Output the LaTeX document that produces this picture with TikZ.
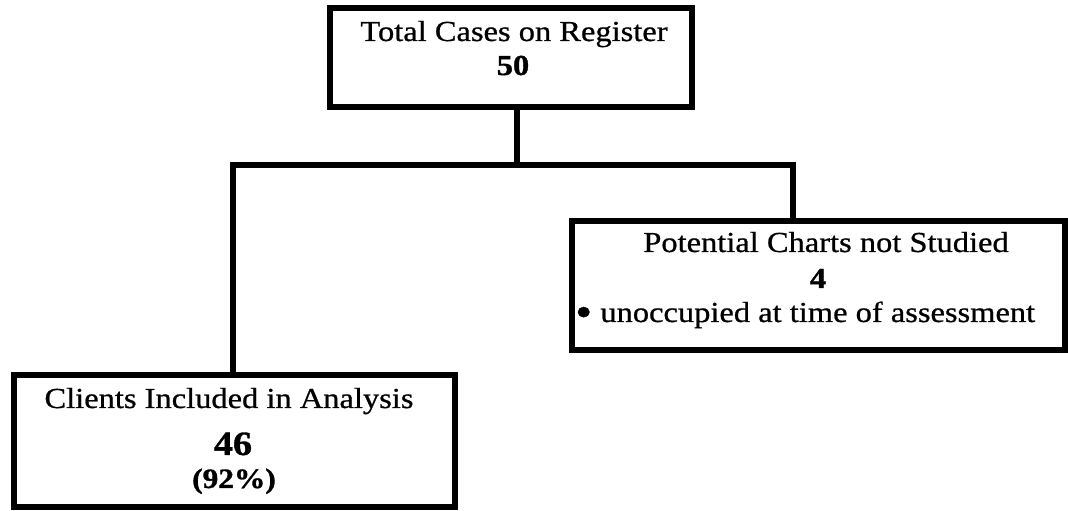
\documentclass[tikz,border=0pt]{standalone}
\usepackage{fontspec}
\usepackage{graphicx}
\setmainfont{Liberation Serif}[UprightFeatures={FakeBold=0.7}, BoldFeatures={FakeBold=1}]
% text is set slightly widened, as in the printed chart
\newcommand{\wtext}[1]{\scalebox{1.12}[1]{#1}}
\newcommand{\bigbullet}{\raisebox{-4.5pt}{\scalebox{1.5}{•}}}
\begin{document}
\begin{tikzpicture}[x=1pt,y=1pt,
  box/.style={draw, line width=6pt, inner sep=0pt, outer sep=0pt, line join=miter},
  conn/.style={line width=6pt, line join=miter},
  label/.style={inner sep=0pt, anchor=base, font=\fontsize{29}{32}\selectfont},
  num/.style={inner sep=0pt, anchor=base, font=\fontsize{29}{32}\selectfont\bfseries}]
\useasboundingbox[fill=white] (0,0) rectangle (1068,511);

% boxes
\node[box, minimum width=362pt, minimum height=98.5pt] (top) at (511,453.25) {};
\node[box, minimum width=441pt, minimum height=132pt] (left) at (234.5,70) {};
\node[box, minimum width=493pt, minimum height=129pt] (right) at (818.5,225.5) {};

% junction points of the connector tree
\coordinate (j) at (517,346);
\coordinate (jl) at (233,346);
\coordinate (jr) at (793,346);

\draw[conn] (top.south -| j) -- (j);
\draw[conn] (left.north -| jl) -- (jl) -- (jr) -- (right.north -| jr);

% texts of the top box
\node[label] (t1) at (514,470) {\wtext{Total Cases on Register}};
\node[num] (t2) at (513,436) {\wtext{50}};

% texts of the left box
\node[label] (l1) at (229,103) {\wtext{Clients Included in Analysis}};
\node[num, font=\fontsize{34}{38}\selectfont\bfseries] (l2) at (233,56) {\wtext{46}};
\node[num, font=\fontsize{28}{30}\selectfont\bfseries] (l3) at (234,23) {\wtext{(92\%)}};

% texts of the right box
\node[label] (r1) at (826,259) {\wtext{Potential Charts not Studied}};
\node[num] (r2) at (818,223) {\wtext{4}};
\node[label, anchor=base west] (r3) at (575,189) {\wtext{\bigbullet\ unoccupied at time of assessment}};
\end{tikzpicture}
\end{document}
